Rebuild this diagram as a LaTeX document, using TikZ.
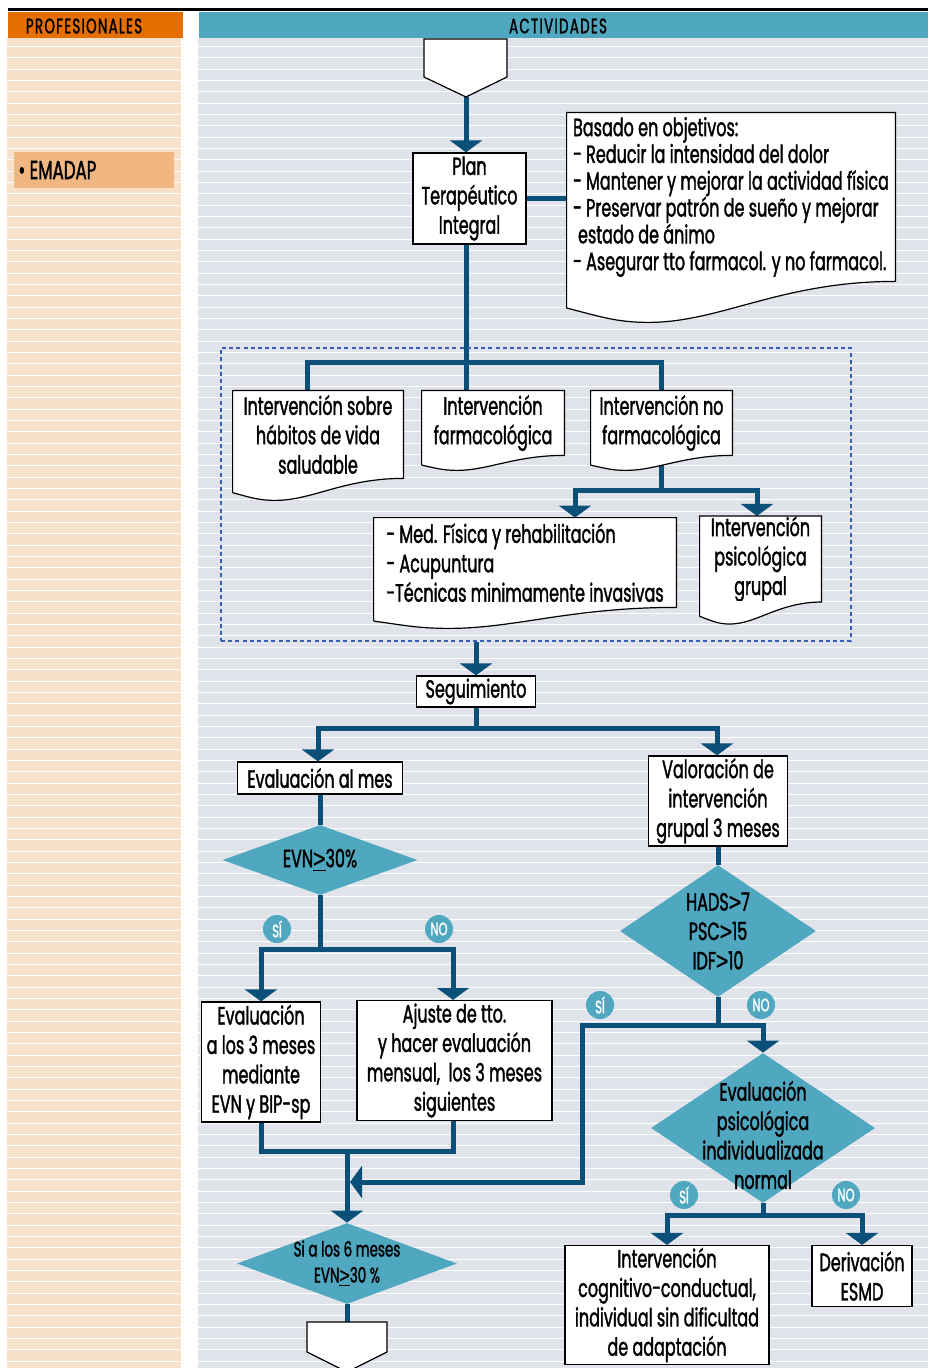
\documentclass[tikz,border=0pt]{standalone}
\usepackage{fontspec}
\setmainfont{Poppins}[FakeStretch=0.64, FakeBold=1.4]
\newfontfamily\symfont{Liberation Sans}[FakeStretch=0.85, FakeBold=1.4]
\usetikzlibrary{shapes.geometric,arrows.meta,calc}

\definecolor{linkblue}{HTML}{0B5078}
\definecolor{decteal}{HTML}{4FA7C0}
\definecolor{hdrorange}{HTML}{E46F00}
\definecolor{peach}{HTML}{F8E1CB}
\definecolor{emabox}{HTML}{F0B782}
\definecolor{stripegray}{HTML}{E1E3EA}
\definecolor{dashblue}{HTML}{3A5CB5}

\pgfdeclarelayer{back}
\pgfdeclarelayer{links}
\pgfsetlayers{back,links,main}

\newcommand{\px}{0.5pt}
\newcommand{\bodyfont}{\fontsize{12.5}{14.7}\selectfont}
\newcommand{\gtsym}{{\symfont >}}
\newcommand{\geqsym}{\underline{\gtsym}}

% document shape: node, width, depth (px)
\newcommand{\docwave}[3]{%
  \fill[white] ($(#1.south west)+(0,-1)$) -- ($(#1.south east)+(0,-1)$) -- (#1.south east)
    .. controls +(-0.35*#2,0) and +(0.22*#2,0) .. ($(#1.south west)+(0.25*#2,#3)$)
    .. controls +(-0.1*#2,0) and +(0.1*#2,0.2*#3) .. ($(#1.south west)+(0,0.65*#3)$) -- cycle;
  \draw[docline] ($(#1.south west)+(0,0.65*#3)$) -- (#1.north west) -- (#1.north east) -- (#1.south east)
    .. controls +(-0.35*#2,0) and +(0.22*#2,0) .. ($(#1.south west)+(0.25*#2,#3)$)
    .. controls +(-0.1*#2,0) and +(0.1*#2,0.2*#3) .. ($(#1.south west)+(0,0.65*#3)$);
}

\tikzset{
  wh/.style 2 args={minimum width=#1*\px, minimum height=#2*\px},
  box/.style={draw, fill=white, line width=0.6pt, align=center, inner sep=0pt, font=\bodyfont},
  docbox/.style={fill=white, align=center, inner sep=0pt, font=\bodyfont},
  docline/.style={draw=black, line width=0.6pt},
  decide/.style={diamond, fill=decteal, inner sep=0pt},
  decidetext/.style={align=center, inner sep=0pt, font=\bodyfont},
  yesno/.style={circle, fill=decteal, text=white, inner sep=0pt, minimum size=28*\px, font=\fontsize{9}{10}\selectfont},
  flow/.style={draw=linkblue, line width=2.5pt},
  arr/.style={flow, -{Triangle[width=16pt,length=6pt]}},
  hdr/.style={font=\fontsize{10.5}{12}\selectfont\addfontfeature{LetterSpace=6}},
}

\begin{document}
\begin{tikzpicture}[x=0.5pt, y=-0.5pt]
  \useasboundingbox (0,0) rectangle (928,1368);

  % Columns
  \begin{pgfonlayer}{back}
    \fill[white] (0,0) rectangle (928,1368);
    \fill[peach] (7,38) rectangle (181,1368);
    \fill[stripegray] (198,38) rectangle (928,1368);
    \foreach \k in {0,...,116}
      \fill[white] (0,46+11.333*\k) rectangle (928,47+11.333*\k);
    \fill[hdrorange] (8,12) rectangle (183,38);
    \fill[decteal] (199,12) rectangle (928,38);
    \draw[line width=1.5pt] (8,10) -- (928,10);
    \fill[emabox] (14,152) rectangle (174,188);
  \end{pgfonlayer}
  \node[hdr] (prof) at (84,26) {PROFESIONALES};
  \node[hdr] (activ) at (558,26) {ACTIVIDADES};
  \node[anchor=west, font=\fontsize{13}{15}\selectfont, inner sep=0pt] (emadap) at (18,170) {\textbullet\ EMADAP};

  % Inicio
  \filldraw[fill=white, draw=black, line width=0.6pt] (424,39) -- (507,39) -- (507,77) -- (466,97) -- (424,77) -- cycle;
  \coordinate (start) at (466,97);

  \node[box, wh={113}{91}] (plan) at (469.5,198.5) {Plan\\Terapéutico\\Integral};
  \node[docbox, wh={328}{168}, align=left, font=\fontsize{12.5}{13.4}\selectfont] (note) at (731,197)
    {Basado en objetivos:\\- Reducir la intensidad del dolor\\- Mantener y mejorar la actividad física\\- Preservar patrón de sueño y mejorar\\\hspace*{0.2em}estado de ánimo\\- Asegurar tto farmacol. y no farmacol.};
  \docwave{note}{328}{41}

  % Intervenciones
  \node[draw=dashblue, dashed, dash pattern=on 2pt off 1.6pt, line width=0.9pt, wh={630}{293}] (grupo) at (536,494.5) {};
  \node[docbox, wh={170}{87}] (i1) at (318,434.5) {Intervención sobre\\hábitos de vida\\saludable};
  \docwave{i1}{170}{22}
  \node[docbox, wh={142}{64}] (i2) at (493,423) {Intervención\\farmacológica};
  \docwave{i2}{142}{15}
  \node[docbox, wh={141}{64}] (i3) at (661.5,423) {Intervención no\\farmacológica};
  \docwave{i3}{141}{15}
  \node[docbox, wh={302}{89}, align=left] (i4) at (525,562.5) {- Med. Física y rehabilitación\\- Acupuntura\\-Técnicas minimamente invasivas};
  \docwave{i4}{302}{21}
  \node[docbox, wh={121}{82}] (i5) at (760.5,559) {Intervención\\psicológica\\grupal};
  \docwave{i5}{121}{22}

  % Seguimiento
  \node[box, wh={119}{31}] (seg) at (476,691.5) {Seguimiento};
  \node[box, wh={165}{32}] (mes) at (320,778) {Evaluación al mes};
  \node[box, wh={139}{90}] (valor) at (718,801) {Valoración de\\intervención\\grupal 3 meses};

  \node[decide, wh={195}{70}] (d1) at (320,860) {};
  \node[decidetext] at (d1) {EVN\geqsym30\%};
  \node[yesno] (s1) at (277,929) {SÍ};
  \node[yesno] (n1) at (439,929) {NO};

  \node[box, wh={119}{120}] (e3) at (261,1062) {Evaluación\\a los 3 meses\\mediante\\EVN y BIP-sp};
  \node[box, wh={195}{120}] (ajuste) at (454.5,1060.5) {Ajuste de tto.\\y hacer evaluación\\mensual,\ \ los 3 meses\\siguientes};

  \node[decide, wh={220}{81}] (d3) at (347,1263.5) {};
  \node[decidetext, font=\fontsize{10.5}{13}\selectfont] at (d3) {Si a los 6 meses\\EVN\geqsym30 \%};
  \filldraw[fill=white, draw=black, line width=0.6pt] (307,1322) -- (387,1322) -- (387,1352) -- (347,1372) -- (307,1352) -- cycle;
  \coordinate (fin) at (347,1322);

  \node[decide, wh={196}{132}] (d2) at (718,931) {};
  \node[decidetext] at (d2) {HADS\gtsym7\\PSC\gtsym15\\IDF\gtsym10};
  \node[yesno] (s2) at (600,1005) {SÍ};
  \node[yesno] (n2) at (761,1005) {NO};

  \node[decide, wh={224}{150}] (d4) at (763,1128) {};
  \node[decidetext] at ($(d4)+(0,7)$) {Evaluación\\psicológica\\individualizada\\normal};
  \node[yesno] (s3) at (684,1195) {SÍ};
  \node[yesno] (n3) at (846,1195) {NO};

  \node[box, wh={204}{119}] (icc) at (667,1305) {Intervención\\cognitivo-conductual,\\individual sin dificultad\\de adaptación};
  \node[box, wh={100}{61}] (esmd) at (862,1276) {Derivación\\ESMD};

  % Conectores
  \coordinate (r1a) at (307,363);
  \coordinate (r1b) at (661,363);
  \coordinate (r2a) at (575,491);
  \coordinate (r2b) at (757,491);
  \coordinate (r3a) at (318,728);
  \coordinate (r3b) at (717,728);
  \coordinate (r4a) at (261,949);
  \coordinate (r4b) at (453,949);
  \coordinate (r5) at (347,1151);
  \coordinate (r6a) at (582,1025);
  \coordinate (r6b) at (763,1025);
  \coordinate (m1) at (350,1182);
  \coordinate (r7a) at (667,1215);
  \coordinate (r7b) at (862,1215);
  \begin{pgfonlayer}{links}
    \draw[arr] (start) -- (start |- plan.north);
    \draw[flow] (plan.east) -- (plan.east -| note.west);
    \draw[flow] (start |- plan.south) -- (start |- i2.north);
    \draw[flow] (r1a |- i1.north) -- (r1a) -- (r1b) -- (r1b |- i3.north);
    \draw[arr] (i3.center) |- (r2a) -- (r2a |- i4.north);
    \draw[arr] (i3.center) |- (r2b) -- (r2b |- i5.north);
    \draw[arr] (grupo.south -| seg.north) -- (seg.north);
    \draw[arr] (seg.south) |- (r3a) -- (r3a |- mes.north);
    \draw[arr] (seg.south) |- (r3b) -- (r3b |- valor.north);
    \draw[flow] (mes.south) -- (d1.north);
    \draw[arr] (d1.south) |- (r4a) -- (r4a |- e3.north);
    \draw[arr] (d1.south) |- (r4b) -- (r4b |- ajuste.north);
    \draw[flow] (e3.south) |- (r5);
    \draw[flow] (r4b |- ajuste.south) |- (r5);
    \draw[arr] (r5) -- (d3.north);
    \draw[flow] (d3.south) -- (fin);
    \draw[flow] (valor.south) -- (d2.north);
    \draw[arr] (d2.south) |- (r6a) -- (r6a |- m1) -- (m1);
    \draw[arr] (d2.south) |- (r6b) -- (d4.north);
    \draw[arr] (d4.south) |- (r7a) -- (r7a |- icc.north);
    \draw[arr] (d4.south) |- (r7b) -- (r7b |- esmd.north);
  \end{pgfonlayer}
\end{tikzpicture}
\end{document}
